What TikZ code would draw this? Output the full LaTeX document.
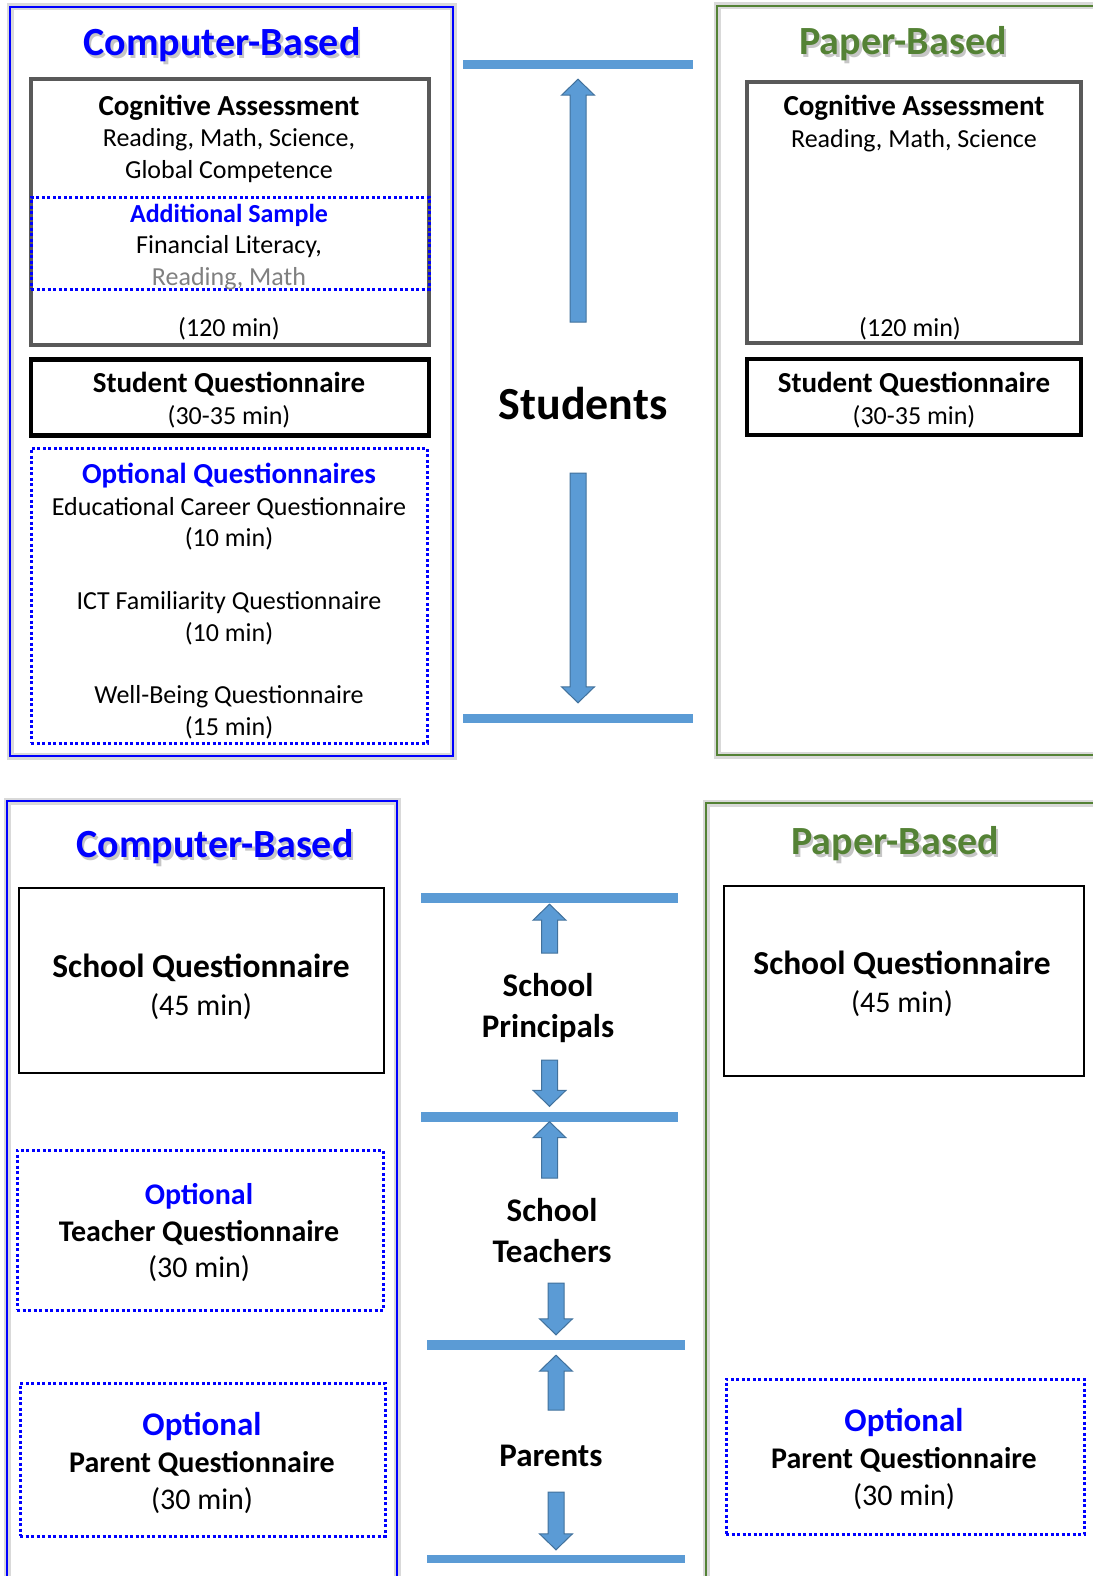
\documentclass[tikz,border=0pt]{standalone}
\usepackage{fontspec}
\setmainfont{Carlito}
\usetikzlibrary{calc}

\definecolor{cbblue}{RGB}{0,0,255}
\definecolor{pbgreen}{RGB}{84,130,53}
\definecolor{barblue}{RGB}{91,155,213}
\definecolor{arrowedge}{RGB}{65,113,156}
\definecolor{boxgrey}{RGB}{89,89,89}
\definecolor{softgrey}{RGB}{128,128,128}

\newcommand{\fs}[2]{\fontsize{#1}{#2}\selectfont}
\newcommand{\hd}{\fontsize{29}{33}\selectfont\bfseries}

% block arrow: [gap] tail, target
\newcommand{\fatarrow}[3][0]{%
  \coordinate (fatip) at ($(#3)!#1pt!(#2)$);
  \coordinate (fabase) at ($(fatip)!16pt!(#2)$);
  \filldraw[fatarrow] ($(#2)!8pt!90:(fatip)$) -- ($(fabase)!8pt!-90:(#2)$)
    -- ($(fabase)!16.5pt!-90:(#2)$) -- (fatip) -- ($(fabase)!16.5pt!90:(#2)$)
    -- ($(fabase)!8pt!90:(#2)$) -- ($(#2)!8pt!-90:(fatip)$) -- cycle;}

\begin{document}
\begin{tikzpicture}[x=1pt,y=-1pt,
    outerframe/.style={line width=2.5pt, preaction={draw=black!15, line width=7pt}},
    cbframe/.style={outerframe, draw=cbblue},
    pbframe/.style={outerframe, draw=pbgreen},
    box/.style={rectangle, inner sep=0pt},
    greybox/.style={box, draw=boxgrey, line width=4.5pt},
    blackbox/.style={box, draw=black, line width=4.5pt},
    thinbox/.style={box, draw=black, line width=2.5pt},
    optbox/.style={box, draw=cbblue, line width=3pt, dash pattern=on 3pt off 2.5pt},
    hbar/.style={rectangle, fill=barblue, inner sep=0pt, minimum height=9pt},
    fatarrow/.style={fill=barblue, draw=arrowedge, line width=1pt},
    txt/.style={align=center, inner sep=0pt, anchor=base, font=\fs{26}{31.4}},
    ttl/.style={inner sep=0pt, anchor=base, font=\fs{40}{44}\bfseries},
    ttlshadow/.style={ttl, text=black!50, opacity=0.45},
    who/.style={txt, font=\fs{33}{41}\bfseries},
  ]
  \useasboundingbox (0,0) rectangle (1092,1576);

  % students: computer-based
  \draw[cbframe] (10,7) rectangle (453,756);
  \node[ttlshadow] (cbAs) at (224.5,58.5) {Computer-Based};
  \node[ttl, text=cbblue] (cbA) at (222,55.5) {Computer-Based};
  \node[greybox, minimum width=398pt, minimum height=266pt] (cogL) at (230,212) {};
  \node[optbox, minimum width=398pt, minimum height=92pt] (addL) at (230,243) {};
  \node[blackbox, minimum width=398pt, minimum height=76pt] (stuL) at (230,397.5) {};
  \node[optbox, minimum width=396pt, minimum height=295pt] (optL) at (229,595.5) {};

  \node[txt] (cogLt) at (229,178.3) {{\hd Cognitive Assessment}\\ Reading, Math, Science,\\ Global Competence};
  \node[txt] (addLt) at (229,285.3) {{\bfseries\color{cbblue}Additional Sample}\\ Financial Literacy,\\ {\color{softgrey}Reading, Math}};
  \node[txt] (timeL) at (229,336.3) {(120 min)};
  \node[txt] (stuLt) at (229,424.3) {{\hd Student Questionnaire}\\ (30-35 min)};
  \node[txt] (optLt) at (229,735.3) {{\hd\color{cbblue}Optional Questionnaires}\\ Educational Career Questionnaire\\ (10 min)\\[31.5pt]
    ICT Familiarity Questionnaire\\ (10 min)\\[31.5pt] Well-Being Questionnaire\\ (15 min)};

  % students: middle
  \node[hbar, minimum width=230pt] (barA) at (578,64.5) {};
  \node[hbar, minimum width=230pt] (barB) at (578,718.5) {};
  \node[who, font=\fs{46}{50}\bfseries] (stud) at (583,419.7) {Students};
  \coordinate (studUp) at (barA |- 0,322);
  \coordinate (studDn) at (barB |- 0,473);
  \fatarrow[10]{studUp}{barA.south}
  \fatarrow[11]{studDn}{barB.north}

  % students: paper-based
  \draw[pbframe] (1100,6) -| (717,755) -- (1100,755);
  \node[ttlshadow] (pbAs) at (905.5,57.5) {Paper-Based};
  \node[ttl, text=pbgreen] (pbA) at (903,54.5) {Paper-Based};
  \node[greybox, minimum width=334pt, minimum height=261pt] (cogR) at (914,212.5) {};
  \node[blackbox, minimum width=334pt, minimum height=76pt] (stuR) at (914,397) {};
  \node[txt] (cogRt) at (914,147.3) {{\hd Cognitive Assessment}\\ Reading, Math, Science};
  \node[txt] (timeR) at (910,336.3) {(120 min)};
  \node[txt] (stuRt) at (914,424.3) {{\hd Student Questionnaire}\\ (30-35 min)};

  % school staff and parents: computer-based
  \draw[cbframe] (7,1580) -- (7,801) -- (397,801) -- (397,1580);
  \node[ttlshadow] (cbBs) at (217.5,860.5) {Computer-Based};
  \node[ttl, text=cbblue] (cbB) at (215,857.5) {Computer-Based};
  \node[thinbox, minimum width=365pt, minimum height=185pt] (schL) at (201.5,980.5) {};
  \node[optbox, minimum width=366pt, minimum height=160pt] (teaL) at (200,1230) {};
  \node[optbox, minimum width=365pt, minimum height=153pt] (parL) at (202.5,1459.5) {};
  \node[txt, font=\fs{30}{38}] (schLt) at (201,1015.6) {{\fs{33.5}{38}\bfseries School Questionnaire}\\ (45 min)};
  \node[txt, font=\fs{30}{36.5}] (teaLt) at (199,1277.6) {{\bfseries\color{cbblue}Optional}\\ {\bfseries Teacher Questionnaire}\\ (30 min)};
  \node[txt, font=\fs{30}{37}] (parLt) at (202,1509.6) {{\fs{33}{37}\bfseries\color{cbblue}Optional}\\ {\bfseries Parent Questionnaire}\\ (30 min)};

  % school staff and parents: middle
  \node[hbar, minimum width=257pt, minimum height=10pt] (barC) at (549.5,898) {};
  \node[hbar, minimum width=257pt, minimum height=10pt] (barD) at (549.5,1116.5) {};
  \node[hbar, minimum width=258pt, minimum height=10pt] (barE) at (556,1345) {};
  \node[hbar, minimum width=258pt, minimum height=8pt] (barF) at (556,1559) {};
  \node[who] (princ) at (548,1037.6) {School\\ Principals};
  \node[who] (teach) at (552,1262.6) {School\\ Teachers};
  \node[who] (par) at (551,1466.6) {Parents};
  \coordinate (princUp) at (barC |- 0,953);
  \coordinate (princDn) at (barD |- 0,1060);
  \coordinate (teachUp) at (barD |- 0,1178);
  \coordinate (teachDn) at (barE |- 0,1283);
  \coordinate (parUp) at (barE |- 0,1410);
  \coordinate (parDn) at (barF |- 0,1492);
  \fatarrow[1]{princUp}{barC.south}
  \fatarrow[5]{princDn}{barD.north}
  \fatarrow{teachUp}{barD.south}
  \fatarrow[5]{teachDn}{barE.north}
  \fatarrow[5]{parUp}{barE.south}
  \fatarrow[5]{parDn}{barF.north}

  % school staff and parents: paper-based
  \draw[pbframe] (1100,803) -| (706,1580);
  \node[ttlshadow] (pbBs) at (897.5,857.5) {Paper-Based};
  \node[ttl, text=pbgreen] (pbB) at (895,854.5) {Paper-Based};
  \node[thinbox, minimum width=360pt, minimum height=190pt] (schR) at (904,981) {};
  \node[optbox, minimum width=358pt, minimum height=155pt] (parR) at (905,1456.5) {};
  \node[txt, font=\fs{30}{38}] (schRt) at (902,1012.6) {{\fs{33.5}{38}\bfseries School Questionnaire}\\ (45 min)};
  \node[txt, font=\fs{30}{37}] (parRt) at (904,1505.6) {{\fs{33}{37}\bfseries\color{cbblue}Optional}\\ {\bfseries Parent Questionnaire}\\ (30 min)};
\end{tikzpicture}
\end{document}
